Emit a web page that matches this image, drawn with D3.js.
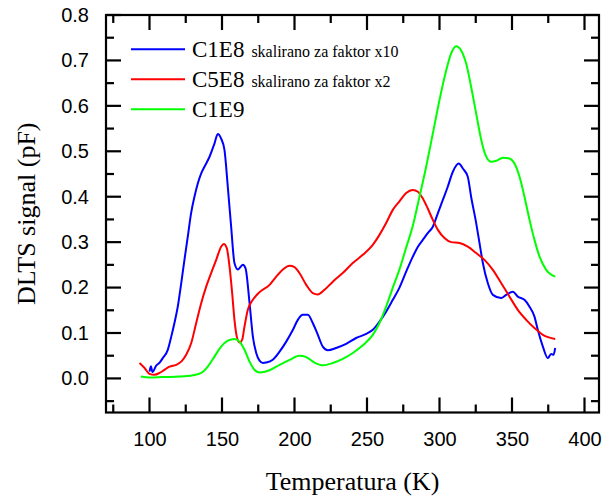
<!DOCTYPE html>
<html>
<head>
<meta charset="utf-8">
<script src="https://cdn.jsdelivr.net/npm/d3@7"></script>
<style>
  html, body { margin: 0; padding: 0; background: #fff; }
  svg { display: block; }
</style>
</head>
<body>
<svg id="chart" width="605" height="500"></svg>
<script>
// ---- data ----
const seriesNames = ["C1E8", "C5E8", "C1E9"];
const seriesNotes = ["skalirano za faktor x10", "skalirano za faktor x2", ""];
const seriesColors = ["#0000ff", "#ff0000", "#00ff00"];

const c1e8T = [100,101,102,104.6,107,109.2,112.6,115,117.2,119.5,121.9,124.1,126.4,128.7,131,133.3,135.6,137.9,141.4,144.8,147.1,149.4,151.7,154,156.3,158.6,160.9,164.4,166.2,169,171.3,173.6,175.9,178.2,180.5,185,189.7,194.3,198.9,202.3,205.7,209.2,212.6,216.1,219.5,223,228.7,235.6,242.5,249.4,254,258.6,263.2,267.8,272.4,277,281.6,285.1,288.5,291.9,295.4,298.9,302.3,305.7,309.2,313.3,316.1,319.5,321.8,325.3,327.6,329.9,333.3,336.8,342.5,346,350.6,354,358.6,362.1,365.5,367.8,371.3,374.7,377,378.6,379.8];
const c1e8V = [0.015,0.027,0.014,0.028,0.035,0.045,0.063,0.092,0.122,0.158,0.210,0.261,0.312,0.364,0.400,0.429,0.451,0.466,0.488,0.517,0.538,0.528,0.503,0.422,0.334,0.254,0.240,0.250,0.243,0.166,0.092,0.056,0.039,0.034,0.035,0.041,0.059,0.081,0.107,0.129,0.140,0.140,0.122,0.096,0.070,0.062,0.067,0.076,0.089,0.098,0.107,0.125,0.147,0.173,0.200,0.235,0.268,0.290,0.305,0.320,0.334,0.364,0.393,0.422,0.455,0.473,0.462,0.444,0.400,0.342,0.298,0.254,0.210,0.184,0.177,0.184,0.191,0.180,0.173,0.158,0.136,0.107,0.070,0.045,0.054,0.052,0.067];

const c5e8T = [93.1,96.6,100,103.4,106.9,110.3,113.8,118.4,121.9,125.3,128.8,132.2,135.7,139.1,142.5,146,149.4,151.3,153.3,155.2,157,158.6,160.2,162.1,163.9,165.5,167.8,171.3,175.9,182.8,187.4,192,196.6,200,203.4,208.1,212.6,216.1,220.7,226.4,233.3,240.2,247.1,254,258.6,263.2,267.8,272.4,277,281.6,285.1,288.5,291.9,295.4,298.9,303.4,308,313.8,319.5,325.3,331,336.8,342.5,348.3,354,359.8,365.5,371.3,379.8];
const c5e8V = [0.034,0.023,0.010,0.008,0.012,0.019,0.026,0.030,0.037,0.052,0.078,0.122,0.166,0.202,0.232,0.261,0.290,0.296,0.287,0.246,0.188,0.129,0.092,0.079,0.085,0.114,0.151,0.173,0.190,0.206,0.224,0.240,0.248,0.245,0.232,0.206,0.188,0.185,0.195,0.213,0.232,0.254,0.272,0.294,0.316,0.342,0.371,0.390,0.408,0.415,0.411,0.396,0.374,0.349,0.327,0.309,0.300,0.298,0.290,0.276,0.261,0.239,0.210,0.180,0.151,0.129,0.111,0.096,0.087];

const c1e9T = [94,100,109.2,120.7,129.9,135.6,140.2,144.8,149.4,154,158.6,162.1,165.5,169,172.4,175.9,182.8,189.7,196.6,203.4,208.1,213.8,219.5,226.4,233.3,240.2,247.1,254,258.6,263.2,267.8,272.4,277,281.6,286.2,290.8,295.4,300,304.6,308,311.5,314.9,318.4,321.8,325.3,328.8,331.7,335.6,339.1,343.7,348.3,351.7,355.2,358.6,362.1,365.5,369,373.6,379.8];
const c1e9V = [0.004,0.002,0.003,0.004,0.007,0.012,0.026,0.048,0.070,0.083,0.087,0.081,0.063,0.037,0.019,0.013,0.018,0.030,0.041,0.050,0.047,0.035,0.029,0.034,0.043,0.056,0.073,0.096,0.122,0.158,0.200,0.240,0.288,0.336,0.400,0.466,0.539,0.613,0.678,0.715,0.731,0.722,0.693,0.642,0.583,0.525,0.492,0.477,0.479,0.486,0.484,0.473,0.444,0.400,0.349,0.305,0.268,0.239,0.224];

const xMajorTicks = [100,150,200,250,300,350,400];
const xMinorTicks = [75,125,175,225,275,325,375];
const yMajorTicks = [0.0,0.1,0.2,0.3,0.4,0.5,0.6,0.7,0.8];
const yMinorTicks = [-0.05,0.05,0.15,0.25,0.35,0.45,0.55,0.65,0.75];
const xTitle = "Temperatura (K)";
const yTitle = "DLTS signal (pF)";

// ---- layout ----
const svg = d3.select("#chart");
const pL = 106, pR = 599, pT = 15, pB = 412.5;
const x = d3.scaleLinear().domain([70, 410]).range([pL, pR]);
const y = d3.scaleLinear().domain([-0.075, 0.8]).range([pB, pT]);

const series = [
  {t: c1e8T, v: c1e8V},
  {t: c5e8T, v: c5e8V},
  {t: c1e9T, v: c1e9V}
];

const line = d3.line().x(d => x(d[0])).y(d => y(d[1])).curve(d3.curveMonotoneX);

series.forEach((s, i) => {
  svg.append("path")
    .datum(s.t.map((tt, j) => [tt, s.v[j]]))
    .attr("fill", "none")
    .attr("stroke", seriesColors[i])
    .attr("stroke-width", 2)
    .attr("stroke-linejoin", "round")
    .attr("d", line);
});

// ---- tick labels via d3 axes ----
const sans = "Liberation Sans, Arial, sans-serif";
svg.append("g").attr("transform", `translate(0,${pB})`)
  .call(d3.axisBottom(x).tickValues(xMajorTicks).tickSize(0).tickPadding(19).tickFormat(d3.format("d")))
  .call(g => g.select(".domain").remove())
  .call(g => g.selectAll("text").attr("font-family", sans).attr("font-size", 20).attr("fill", "#000"));
svg.append("g").attr("transform", `translate(${pL},0)`)
  .call(d3.axisLeft(y).tickValues(yMajorTicks).tickSize(0).tickPadding(17).tickFormat(d3.format(".1f")))
  .call(g => g.select(".domain").remove())
  .call(g => g.selectAll("text").attr("font-family", sans).attr("font-size", 20).attr("fill", "#000"));

// ---- inward tick marks on all four sides, drawn as filled rects ----
const majLen = 15, minLen = 8, tw = 2.2;
const xTickData = xMajorTicks.map(v => ({v, len: majLen})).concat(xMinorTicks.map(v => ({v, len: minLen})));
const yTickData = yMajorTicks.map(v => ({v, len: majLen})).concat(yMinorTicks.map(v => ({v, len: minLen})));
const tg = svg.append("g").style("fill", "#000000");
tg.selectAll(".tb").data(xTickData).enter().append("rect").attr("class", "tb")
  .attr("x", d => x(d.v) - tw / 2).attr("y", d => pB - d.len).attr("width", tw).attr("height", d => d.len);
tg.selectAll(".tt").data(xTickData).enter().append("rect").attr("class", "tt")
  .attr("x", d => x(d.v) - tw / 2).attr("y", pT).attr("width", tw).attr("height", d => d.len);
tg.selectAll(".tl").data(yTickData).enter().append("rect").attr("class", "tl")
  .attr("x", pL).attr("y", d => y(d.v) - tw / 2).attr("width", d => d.len).attr("height", tw);
tg.selectAll(".tr").data(yTickData).enter().append("rect").attr("class", "tr")
  .attr("x", d => pR - d.len).attr("y", d => y(d.v) - tw / 2).attr("width", d => d.len).attr("height", tw);

// frame
svg.append("rect")
  .attr("x", pL).attr("y", pT).attr("width", pR - pL).attr("height", pB - pT)
  .style("fill", "none").style("stroke", "#000").style("stroke-width", "2.2px");

// ---- titles ----
const serif = "Liberation Serif, Times New Roman, serif";
svg.append("text")
  .attr("x", (pL + pR) / 2).attr("y", 490)
  .attr("text-anchor", "middle")
  .attr("font-family", serif)
  .attr("font-size", 26).attr("fill", "#000")
  .text(xTitle);
svg.append("text")
  .attr("transform", `translate(35,${(pT + pB) / 2}) rotate(-90)`)
  .attr("text-anchor", "middle")
  .attr("font-family", serif)
  .attr("font-size", 26).attr("fill", "#000")
  .text(yTitle);

// ---- legend ----
const legend = svg.append("g");
seriesNames.forEach((name, i) => {
  const ly = 49.3 + i * 30;
  legend.append("line")
    .attr("x1", 131).attr("x2", 185).attr("y1", ly).attr("y2", ly)
    .attr("stroke", seriesColors[i]).attr("stroke-width", 2);
  const t = legend.append("text")
    .attr("x", 192).attr("y", ly + 7.5)
    .attr("font-family", serif)
    .attr("fill", "#000");
  t.append("tspan").attr("font-size", 23).text(name);
  if (seriesNotes[i]) {
    t.append("tspan").attr("font-size", 16).attr("dx", 7).text(seriesNotes[i]);
  }
});
</script>
</body>
</html>
